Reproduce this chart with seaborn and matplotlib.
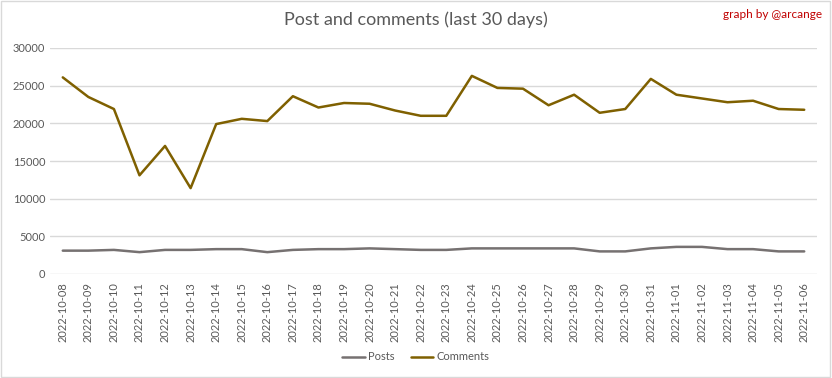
import pandas as pd
import seaborn as sns
import matplotlib.pyplot as plt

dates = ["2022-10-08", "2022-10-09", "2022-10-10", "2022-10-11", "2022-10-12",
         "2022-10-13", "2022-10-14", "2022-10-15", "2022-10-16", "2022-10-17",
         "2022-10-18", "2022-10-19", "2022-10-20", "2022-10-21", "2022-10-22",
         "2022-10-23", "2022-10-24", "2022-10-25", "2022-10-26", "2022-10-27",
         "2022-10-28", "2022-10-29", "2022-10-30", "2022-10-31", "2022-11-01",
         "2022-11-02", "2022-11-03", "2022-11-04", "2022-11-05", "2022-11-06"]
posts = [3100, 3100, 3200, 2900, 3200, 3200, 3300, 3300, 2900, 3200,
         3300, 3300, 3400, 3300, 3200, 3200, 3400, 3400, 3400, 3400,
         3400, 3000, 3000, 3400, 3600, 3600, 3300, 3300, 3000, 3000]
comments = [26100, 23500, 21900, 13100, 17000, 11400, 19900, 20600, 20300, 23600,
            22100, 22700, 22600, 21700, 21000, 21000, 26300, 24700, 24600, 22400,
            23800, 21400, 21900, 25900, 23800, 23300, 22800, 23000, 21900, 21800]

df = pd.DataFrame({"date": dates, "Posts": posts, "Comments": comments})
df = df.melt(id_vars="date", var_name="series", value_name="value")

sns.set_style("white")
plt.rcParams["font.family"] = ["Lato", "DejaVu Sans"]

fig = plt.figure(figsize=(8.32, 3.78), dpi=100)
ax = fig.add_axes([50 / 832, 1 - 274 / 378, 767 / 832, 226 / 378])

sns.lineplot(data=df, x="date", y="value", hue="series", ax=ax,
             palette={"Posts": "#767171", "Comments": "#7F6000"},
             linewidth=1.8, legend=False)

ax.set_xlim(-0.5, len(dates) - 0.5)
ax.set_ylim(0, 30000)
ax.set_yticks(range(0, 30001, 5000))
ax.grid(axis="y", color="#D9D9D9", linewidth=1)
ax.set_axisbelow(True)
for s in ax.spines.values():
    s.set_visible(False)
ax.tick_params(axis="both", length=0, colors="#595959", labelsize=8)
ax.tick_params(axis="x", pad=6)
plt.setp(ax.get_xticklabels(), rotation=90)
ax.set_xlabel("")
ax.set_ylabel("")

fig.text(0.5, 1 - 20 / 378, "Post and comments (last 30 days)", ha="center", va="center",
         fontsize=13, color="#595959")
fig.text(822 / 832, 1 - 15 / 378, "graph by @arcange", ha="right", va="center",
         fontsize=8.5, color="#C00000")

handles = [plt.Line2D([], [], color="#767171", lw=1.8), plt.Line2D([], [], color="#7F6000", lw=1.8)]
fig.legend(handles, ["Posts", "Comments"], loc="center", bbox_to_anchor=(0.5, 1 - 357 / 378),
           ncol=2, frameon=False, fontsize=8, labelcolor="#595959", handlelength=2,
           handletextpad=0.3, columnspacing=1.5)

fig.patches.append(plt.Rectangle((0.001, 0.002), 0.997, 0.996, transform=fig.transFigure,
                                 fill=False, edgecolor="#D9D9D9", linewidth=1))

fig.savefig("out.png", dpi=100)
